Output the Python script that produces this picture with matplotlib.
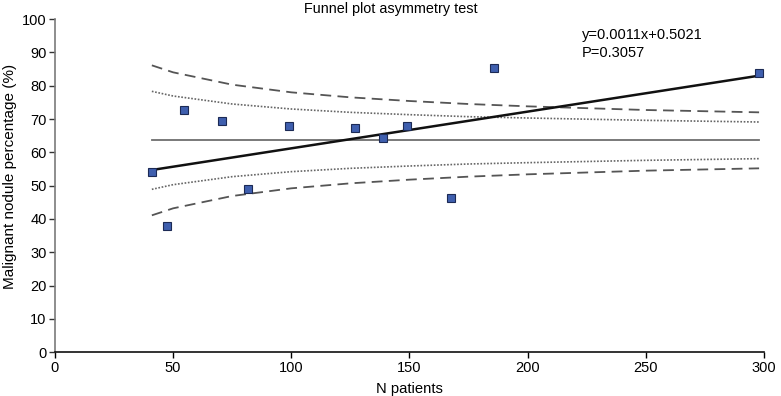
import matplotlib
matplotlib.use("Agg")
import matplotlib.pyplot as plt

plt.rcParams['font.family'] = ['Liberation Sans', 'DejaVu Sans']

# Study points: N patients vs malignant nodule percentage
n_patients = [40.9, 47.5, 54.7, 70.8, 81.7, 98.9, 127.0, 138.9, 148.8, 167.6, 185.9, 297.9]
malignant_pct = [54.1, 37.8, 72.8, 69.3, 48.9, 67.9, 67.2, 64.4, 68.0, 46.2, 85.4, 83.7]

# Pooled mean line
pooled_x = [41, 298]
pooled_y = [63.6, 63.6]

# Regression line endpoints (y=0.0011x+0.5021)
reg_x = [41, 298]
reg_y = [54.7, 83.0]

# Funnel limits
funnel_x = [41, 50, 75, 100, 125, 150, 175, 200, 250, 298]
outer_upper = [86.1, 84.0, 80.3, 78.0, 76.5, 75.4, 74.5, 73.8, 72.7, 72.0]
outer_lower = [41.1, 43.2, 46.9, 49.2, 50.7, 51.8, 52.7, 53.4, 54.5, 55.2]
inner_upper = [78.3, 76.9, 74.5, 73.0, 72.0, 71.3, 70.7, 70.3, 69.6, 69.1]
inner_lower = [48.9, 50.3, 52.7, 54.2, 55.2, 55.9, 56.5, 56.9, 57.6, 58.1]

x_ticks = [0, 50, 100, 150, 200, 250, 300]
y_ticks = [0, 10, 20, 30, 40, 50, 60, 70, 80, 90, 100]

fig = plt.figure(figsize=(7.81, 3.96), dpi=100)
ax = fig.add_axes([0.0704, 0.1103, 0.9076, 0.8417])

dash_col = '#555555'
ax.plot(funnel_x, outer_upper, color=dash_col, lw=1.3, dashes=(6, 3.5))
ax.plot(funnel_x, outer_lower, color=dash_col, lw=1.3, dashes=(6, 3.5))
ax.plot(funnel_x, inner_upper, color='#666666', lw=1.2, dashes=(1, 1))
ax.plot(funnel_x, inner_lower, color='#666666', lw=1.2, dashes=(1, 1))
ax.plot(pooled_x, pooled_y, color='#6e6e6e', lw=1.3)
ax.plot(reg_x, reg_y, color='#111111', lw=1.8)
ax.plot(n_patients, malignant_pct, linestyle='none', marker='s', markersize=6,
        markerfacecolor='#3f5fae', markeredgecolor='#1c2a55', markeredgewidth=0.8, zorder=5)

ax.set_xlim(0, 300)
ax.set_ylim(0, 100)
ax.set_xticks(x_ticks)
ax.set_yticks(y_ticks)
ax.tick_params(axis='both', labelsize=10.5, length=4, width=1, direction='out', pad=2)
ax.tick_params(axis='y', colors='#333333', labelcolor='black')
for s in ['top', 'right']:
    ax.spines[s].set_visible(False)
ax.spines['left'].set_color('#7a7a7a')
ax.spines['left'].set_linewidth(1.2)
ax.spines['bottom'].set_color('#111111')
ax.spines['bottom'].set_linewidth(1.2)

ax.set_xlabel('N patients', fontsize=10.6)
ax.xaxis.set_label_coords(0.5, -0.088)
ax.set_ylabel('Malignant nodule percentage (%)', fontsize=11)
ax.yaxis.set_label_coords(-0.053, 0.529)
fig.text(0.5, 0.978, 'Funnel plot asymmetry test', ha='center', va='center', fontsize=10.4)

ax.text(223, 95.2, 'y=0.0011x+0.5021', fontsize=10.5, va='center', ha='left')
ax.text(223, 89.8, 'P=0.3057', fontsize=10.5, va='center', ha='left')

fig.savefig('out.png', dpi=100)
